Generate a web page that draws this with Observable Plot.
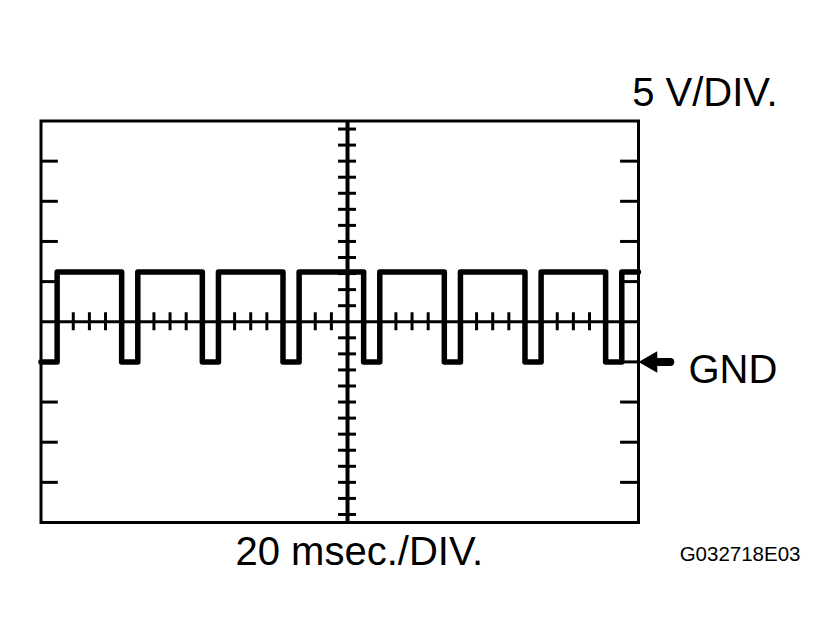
<!DOCTYPE html>
<html>
<head>
<meta charset="utf-8">
<script src="https://cdn.jsdelivr.net/npm/d3@7"></script>
<script src="https://cdn.jsdelivr.net/npm/@observablehq/plot@0.6"></script>
<style>
  html, body { margin: 0; padding: 0; background: #fff; }
  #chart { width: 836px; height: 640px; }
</style>
</head>
<body>
<div id="chart"></div>
<script>
// Oscilloscope trace: 20 msec./DIV horizontally, 5 V/DIV vertically (GND = 0 V)
const waveMs = [0, 5.4, 27, 32.4, 54, 59.4, 81, 86.4, 108, 113.4, 135, 140.4, 162, 167.4, 189, 194.4, 200];
const waveV  = [0, 11.2, 0, 11.2, 0, 11.2, 0, 11.2, 0, 11.2, 0, 11.2, 0, 11.2, 0, 11.2, 11.2];

// graticule
const centerMs = [102.6];
const centerV = [5];
const divisionV = [-15, -10, -5, 0, 10, 15, 20, 25];
const minorTickMs = [5.4, 10.8, 16.2, 21.6, 27, 32.4, 37.8, 43.2, 48.6, 54, 59.4, 64.8, 70.2, 75.6, 81, 86.4, 91.8, 97.2, 102.6, 108, 113.4, 118.8, 124.2, 129.6, 135, 140.4, 145.8, 151.2, 156.6, 162, 167.4, 172.8, 178.2, 183.6, 189, 194.4];
const minorTickV = [-19, -17, -15, -13, -11, -9, -7, -5, -3, -1, 1, 3, 7, 9, 11, 13, 15, 17, 19, 21, 23, 25, 27, 29];
const gndV = [0];

// labels
const voltLabel = ["5 V/DIV."];
const timeLabel = ["20 msec./DIV."];
const gndLabel = ["GND"];
const codeLabel = ["G032718E03"];

const wave = waveMs.map((t, i) => ({t, v: waveV[i]}));

const font = "'Liberation Sans', Arial, Helvetica, sans-serif";

const chart = Plot.plot({
  width: 836,
  height: 640,
  marginLeft: 40.5,
  marginRight: 198,
  marginTop: 120.5,
  marginBottom: 118,
  style: {fontFamily: font, background: "#fff", color: "#000"},
  x: {domain: [0, 200], axis: null},
  y: {domain: [-20, 30], axis: null},
  marks: [
    // side division ticks
    Plot.ruleY(divisionV, {y: d => d, x1: 0, x2: 5.8, stroke: "#000", strokeWidth: 3}),
    Plot.ruleY(divisionV, {y: d => d, x1: 194, x2: 200, stroke: "#000", strokeWidth: 3}),
    // center cross lines
    Plot.ruleY(centerV, {stroke: "#000", strokeWidth: 3}),
    Plot.ruleX(centerMs, {stroke: "#000", strokeWidth: 4}),
    // minor ticks on center lines
    Plot.ruleX(minorTickMs, {x: d => d, y1: 3.88, y2: 6.12, stroke: "#000", strokeWidth: 3}),
    Plot.ruleY(minorTickV, {y: d => d, x1: 99.6, x2: 105.6, stroke: "#000", strokeWidth: 3}),
    Plot.frame({stroke: "#000", strokeWidth: 3}),
    // waveform
    Plot.line(wave, {x: "t", y: "v", curve: "step-after", stroke: "#000", strokeWidth: 5.5,
      strokeLinejoin: "round", strokeLinecap: "round"}),
    // GND arrow
    Plot.ruleY(gndV, {y: d => d, x1: 205, x2: 210.8, stroke: "#000", strokeWidth: 8, strokeLinecap: "round"}),
    Plot.dot(gndV, {y: d => d, frameAnchor: "right", dx: 12.5, symbol: "triangle", r: 8,
      rotate: -90, fill: "#000", stroke: "none"}),
    Plot.text(gndLabel, {text: d => d, y: gndV[0], frameAnchor: "right", dx: 50, dy: 21,
      textAnchor: "start", lineAnchor: "bottom", fontSize: 40, fill: "#000"}),
    // scale labels
    Plot.text(voltLabel, {text: d => d, frameAnchor: "top-right", dx: 139, dy: -15,
      textAnchor: "end", lineAnchor: "bottom", fontSize: 40, fill: "#000"}),
    Plot.text(timeLabel, {text: d => d, frameAnchor: "bottom-left", dx: 194.5, dy: 42.5,
      textAnchor: "start", lineAnchor: "bottom", fontSize: 40, fill: "#000"}),
    Plot.text(codeLabel, {text: d => d, frameAnchor: "bottom-right", dx: 162, dy: 38.5,
      textAnchor: "end", lineAnchor: "bottom", fontSize: 20.5, fill: "#000"})
  ]
});

document.getElementById("chart").appendChild(chart);
</script>
</body>
</html>
